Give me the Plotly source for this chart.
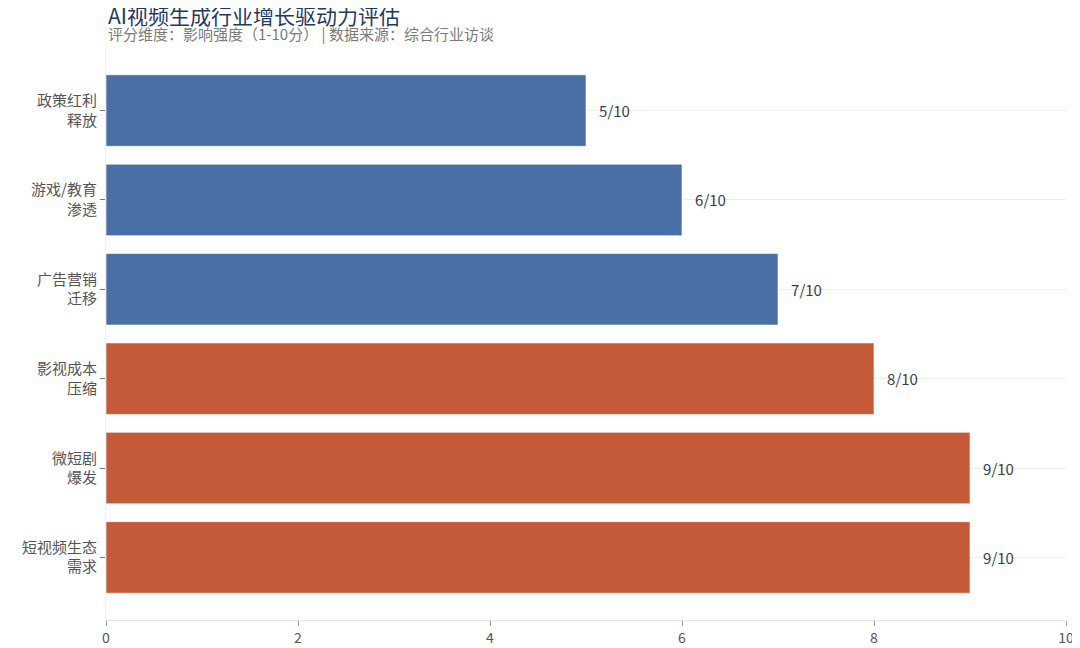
import plotly.graph_objects as go

categories = ["短视频生态<br>需求", "微短剧<br>爆发", "影视成本<br>压缩", "广告营销<br>迁移", "游戏/教育<br>渗透", "政策红利<br>释放"]
scores = [9, 9, 8, 7, 6, 5]
labels = ["9/10", "9/10", "8/10", "7/10", "6/10", "5/10"]
tiers = ["high", "high", "high", "mid", "mid", "mid"]

tier_colors = {"high": "#C55A38", "mid": "#4A6FA5"}
colors = [tier_colors[t] for t in tiers]

FONT = "Noto Sans CJK SC, sans-serif"

fig = go.Figure()
fig.add_trace(go.Bar(
    y=categories,
    x=scores,
    orientation="h",
    marker=dict(color=colors, line=dict(color="rgba(255,255,255,0.6)", width=1)),
    width=0.8,
    text=["   " + s for s in labels],
    textposition="outside",
    textfont=dict(family=FONT, size=15, color="#34404F"),
    cliponaxis=False,
    hoverinfo="skip",
))

fig.add_annotation(
    text="AI视频生成行业增长驱动力评估",
    x=0, xref="paper", xanchor="left",
    y=1.0585, yref="paper", yanchor="middle",
    showarrow=False,
    font=dict(family=FONT, size=21, color="#1F3A5F"),
)
fig.add_annotation(
    text="评分维度：影响强度（1-10分） | 数据来源：综合行业访谈",
    x=0, xref="paper", xanchor="left",
    y=1.0245, yref="paper", yanchor="middle",
    showarrow=False,
    font=dict(family=FONT, size=15, color="#7A7A7A"),
)

fig.update_layout(
    width=1072,
    height=640,
    margin=dict(l=98, r=14, t=40, b=28, autoexpand=False),
    paper_bgcolor="white",
    plot_bgcolor="white",
    font=dict(family=FONT, color="#555555"),
    showlegend=False,
    xaxis=dict(
        range=[0, 10],
        dtick=2,
        showgrid=False,
        zeroline=False,
        showline=True,
        linecolor="#E6E6E6",
        ticks="outside",
        ticklen=5,
        tickcolor="#999999",
        tickfont=dict(family=FONT, size=14, color="#555555"),
        automargin=False,
    ),
    yaxis=dict(
        range=[-0.7, 5.7],
        showgrid=True,
        gridcolor="#EEEEEE",
        showline=True,
        linecolor="#EEEEEE",
        ticks="outside",
        ticklen=5,
        tickcolor="#777777",
        tickfont=dict(family=FONT, size=15, color="#555555"),
        automargin=False,
    ),
    bargap=0.2,
)

fig.write_html("out.html")
